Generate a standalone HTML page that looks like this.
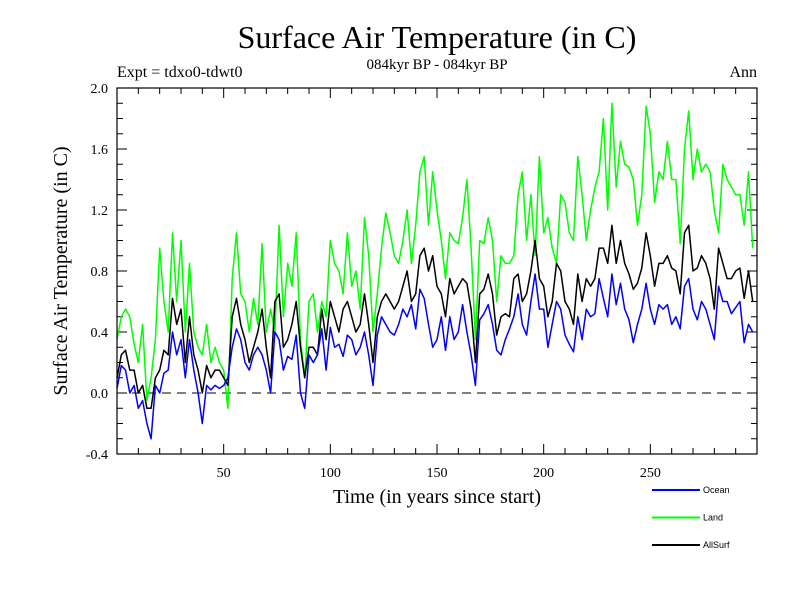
<!DOCTYPE html>
<html><head><meta charset="utf-8"><style>
body{margin:0;background:#fff;}
svg{display:block;font-family:"Liberation Serif",serif;}
</style></head><body>
<svg id="chart" width="800" height="600" viewBox="0 0 800 600">
<text x="437" y="48" text-anchor="middle" font-size="32">Surface Air Temperature (in C)</text>
<text x="117" y="77" font-size="16">Expt = tdxo0-tdwt0</text>
<text x="437" y="69" text-anchor="middle" font-size="15">084kyr BP - 084kyr BP</text>
<text x="757" y="77" text-anchor="end" font-size="16">Ann</text>
<text transform="translate(67,271) rotate(-90)" text-anchor="middle" font-size="20">Surface Air Temperature (in C)</text>
<text x="437" y="503" text-anchor="middle" font-size="20">Time (in years since start)</text>
<g id="ticks"></g>
<g id="series"></g>
<rect x="117" y="88" width="640" height="366" fill="none" stroke="#000" stroke-width="1.2"/>
<g id="legend" font-family="Liberation Sans, sans-serif" font-size="9"></g>
</svg>
<script>
const xTicks=[50,100,150,200,250];
const yTicks=[-0.4,0,0.4,0.8,1.2,1.6,2.0];
const yTickLabels=["-0.4","0.0","0.4","0.8","1.2","1.6","2.0"];
const seriesNames=["Ocean","Land","AllSurf"];
const land=[0.35,0.5,0.55,0.5,0.32,0.2,0.45,-0.05,0.1,0.35,0.95,0.6,0.4,1.05,0.6,1.0,0.4,0.85,0.4,0.3,0.25,0.45,0.2,0.3,0.2,0.15,-0.1,0.75,1.05,0.65,0.6,0.4,0.62,0.45,0.98,0.4,0.55,0.4,1.1,
0.5,0.85,0.7,1.05,0.35,0.1,0.6,0.65,0.4,0.6,0.5,1.0,0.85,0.8,0.65,1.05,0.7,0.8,0.55,1.15,0.9,0.4,0.65,0.95,1.18,1.05,0.9,0.85,1.0,1.2,0.85,1.1,1.45,1.55,1.1,1.45,
1.2,1.0,0.75,1.05,1.0,0.98,1.15,1.4,0.95,0.35,1.0,0.98,1.15,1.0,0.6,0.9,0.85,0.85,0.9,1.3,1.45,1.0,1.3,0.9,1.55,1.05,1.15,0.95,0.85,1.3,1.25,1.05,1.0,1.55,1.3,1.0,1.2,1.35,1.45,
1.8,1.2,1.9,1.35,1.65,1.5,1.48,1.4,1.1,1.3,1.88,1.7,1.25,1.45,1.4,1.65,1.4,1.4,0.98,1.6,1.85,1.4,1.6,1.45,1.5,1.45,1.2,1.05,1.5,1.4,1.35,1.3,1.3,1.1,1.45,0.95];
const ocean=[0.03,0.18,0.15,0.0,0.05,-0.1,-0.05,-0.2,-0.3,0.05,0.0,0.13,0.15,0.4,0.25,0.35,0.1,0.35,0.15,0.0,-0.2,0.05,0.02,0.05,0.03,0.05,0.1,0.3,0.42,0.35,0.2,0.15,0.25,0.3,0.25,0.15,0.0,0.4,0.35,
0.15,0.24,0.22,0.38,0.0,-0.1,0.25,0.2,0.25,0.42,0.15,0.43,0.3,0.32,0.24,0.38,0.35,0.25,0.3,0.4,0.25,0.05,0.38,0.5,0.45,0.4,0.38,0.45,0.55,0.5,0.58,0.42,0.68,0.62,0.45,0.3,
0.35,0.5,0.28,0.5,0.35,0.4,0.58,0.4,0.25,0.05,0.48,0.52,0.58,0.45,0.28,0.25,0.35,0.42,0.5,0.65,0.45,0.38,0.6,0.78,0.55,0.55,0.3,0.45,0.6,0.55,0.38,0.32,0.27,0.5,0.35,0.55,0.5,0.52,0.75,
0.62,0.5,0.78,0.58,0.72,0.55,0.48,0.33,0.45,0.55,0.72,0.55,0.45,0.58,0.55,0.58,0.45,0.5,0.42,0.7,0.75,0.55,0.48,0.6,0.55,0.45,0.35,0.7,0.6,0.6,0.52,0.56,0.6,0.33,0.45,0.4];
const allSurf=[0.1,0.25,0.28,0.15,0.15,0.0,0.05,-0.1,-0.1,0.1,0.15,0.28,0.25,0.62,0.45,0.55,0.2,0.5,0.25,0.15,0.0,0.18,0.1,0.15,0.15,0.1,0.05,0.5,0.62,0.45,0.35,0.2,0.3,0.4,0.55,0.3,0.1,0.6,0.65,
0.3,0.35,0.45,0.6,0.3,0.1,0.3,0.3,0.25,0.55,0.35,0.6,0.5,0.4,0.55,0.6,0.5,0.4,0.45,0.65,0.45,0.2,0.5,0.6,0.65,0.6,0.55,0.6,0.7,0.8,0.6,0.65,0.9,0.95,0.8,0.9,
0.7,0.65,0.5,0.75,0.65,0.7,0.75,0.72,0.55,0.2,0.65,0.68,0.78,0.65,0.38,0.5,0.52,0.5,0.75,0.78,0.6,0.65,0.8,1.0,0.75,0.7,0.5,0.6,0.85,0.8,0.6,0.55,0.45,0.78,0.6,0.75,0.7,0.75,0.95,
0.95,0.85,1.1,0.85,1.0,0.85,0.78,0.68,0.72,0.82,1.05,0.9,0.7,0.85,0.85,0.9,0.82,0.8,0.65,1.05,1.1,0.8,0.82,0.9,0.85,0.75,0.55,0.95,0.85,0.75,0.75,0.8,0.82,0.62,0.8,0.6];
const years=land.map((_,i)=>i*2);

const X0=117,X1=757,Y0=88,Y1=454,XMIN=0,XMAX=300,YMIN=-0.4,YMAX=2.0;
const sx=v=>X0+(v-XMIN)/(XMAX-XMIN)*(X1-X0);
const sy=v=>Y1-(v-YMIN)/(YMAX-YMIN)*(Y1-Y0);
const NS="http://www.w3.org/2000/svg";
function mk(tag,attrs,parent){const e=document.createElementNS(NS,tag);for(const k in attrs)e.setAttribute(k,attrs[k]);parent.appendChild(e);return e;}
const tg=document.getElementById('ticks');
for(let v=10;v<XMAX;v+=10){
  const major=v%50===0,len=major?10:6,x=sx(v);
  let t=mk('line',{x1:x,x2:x,y1:Y1,y2:Y1-len,stroke:'#000'},tg);
  
  
  let t2=mk('line',{x1:x,x2:x,y1:Y0,y2:Y0+len,stroke:'#000'},tg);
  
  
}
xTicks.forEach(v=>{
  const l=mk('text',{x:sx(v),y:477,'text-anchor':'middle','font-size':14},tg);l.textContent=v;
  
  
});
for(let i=-3;i<20;i++){
  const v=i/10,major=(i%4===0),len=major?10:6,y=sy(v);
  let t=mk('line',{x1:X0,x2:X0+len,y1:y,y2:y,stroke:'#000'},tg);
  
  
  let t2=mk('line',{x1:X1,x2:X1-len,y1:y,y2:y,stroke:'#000'},tg);
  
  
}
yTicks.forEach((v,i)=>{
  const l=mk('text',{x:108,y:sy(v)+5,'text-anchor':'end','font-size':14},tg);l.textContent=yTickLabels[i];
  
  
});
const zl=mk('line',{x1:X0,x2:X1,y1:sy(0),y2:sy(0),stroke:'#000','stroke-dasharray':'9,6'},tg);


const sg=document.getElementById('series');
const colors=['#0000ff','#00ff00','#000000'];
const data=[ocean,land,allSurf];
[1,2,0].forEach(k=>{
  const pts=data[k].map((v,i)=>sx(years[i]).toFixed(1)+','+sy(v).toFixed(1)).join(' ');
  const p=mk('polyline',{points:pts,fill:'none',stroke:colors[k],'stroke-width':1.5,'stroke-linejoin':'round'},sg);
  
  
});
const lg=document.getElementById('legend');
seriesNames.forEach((n,k)=>{
  const y=490+k*27.5;
  const l=mk('line',{x1:652,x2:700,y1:y,y2:y,stroke:colors[k],'stroke-width':2},lg);
  
  
  const t=mk('text',{x:703,y:y+3},lg);t.textContent=n;
  
  
});
</script>
</body></html>
